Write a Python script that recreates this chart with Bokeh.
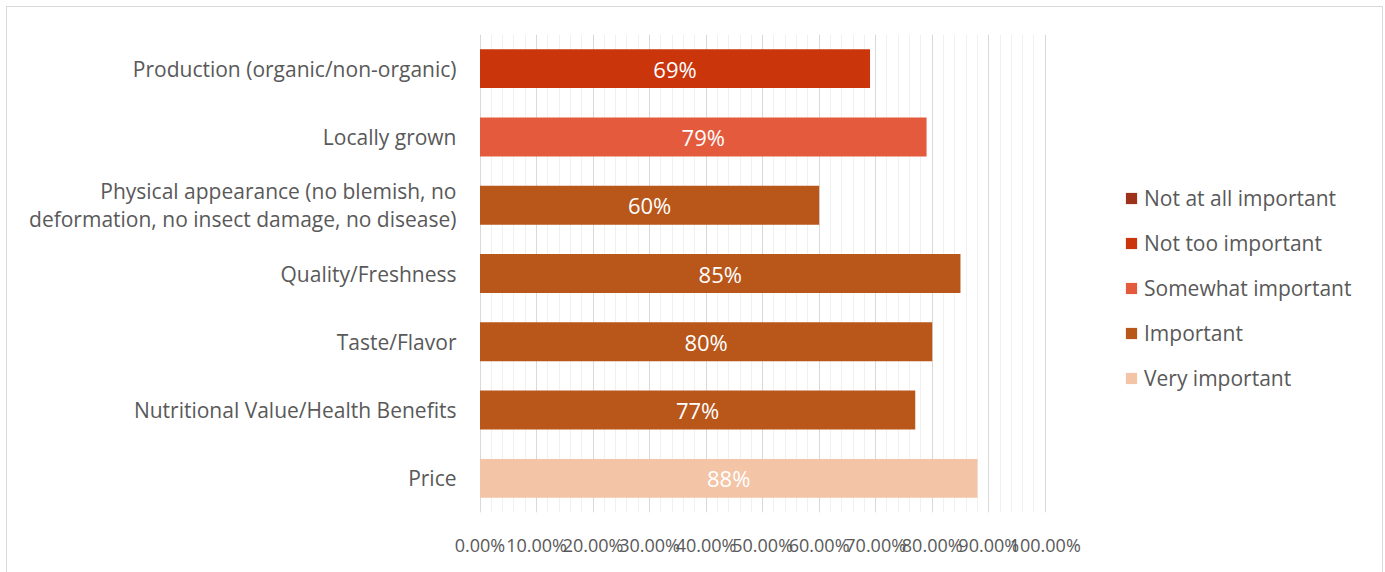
from bokeh.plotting import figure
from bokeh.models import (ColumnDataSource, FixedTicker, Legend, LegendItem,
                          NumeralTickFormatter)
from bokeh.core.properties import value
from bokeh.embed import file_html
from bokeh.resources import INLINE

# ---- data ----
categories = [
    "Production (organic/non-organic)",
    "Locally grown",
    "Physical appearance (no blemish, no\ndeformation, no insect damage, no disease)",
    "Quality/Freshness",
    "Taste/Flavor",
    "Nutritional Value/Health Benefits",
    "Price",
]
values = [69, 79, 60, 85, 80, 77, 88]
levels = ["Not too important", "Somewhat important", "Important", "Important",
          "Important", "Important", "Very important"]
legend_levels = ["Not at all important", "Not too important", "Somewhat important",
                 "Important", "Very important"]
level_colors = ["#9E311A", "#CB350B", "#E45A3C", "#B9561A", "#F3C4A6"]
x_ticks = [0.0, 0.1, 0.2, 0.3, 0.4, 0.5, 0.6, 0.7, 0.8, 0.9, 1.0]

FONT = "Open Sans"
TXT = "#595959"

# frame spans 480..1373 px; 0..1 maps to 480..1044 px, room on the right for legend
PX_PER_UNIT = 564.0
FRAME_W = 893.0
x0 = -0.5 / PX_PER_UNIT
x1 = x0 + FRAME_W / PX_PER_UNIT

p = figure(width=1377, height=566, y_range=list(reversed(categories)),
           x_range=(x0, x1), output_backend="svg", toolbar_location=None,
           min_border_left=472, min_border_right=10, min_border_top=27,
           min_border_bottom=61)
p.styles = {"margin-left": "6px", "margin-top": "6px",
            "border-left": "1px solid #d9d9d9", "border-top": "1px solid #d9d9d9",
            "border-right": "1px solid #d9d9d9"}
p.outline_line_color = None
p.background_fill_color = "white"
p.border_fill_color = "white"

renderers = []
for lvl, col in zip(legend_levels, level_colors):
    idx = [i for i, l in enumerate(levels) if l == lvl]
    cats = [categories[i] for i in idx]
    vals = [values[i] / 100 for i in idx]
    if not idx:  # legend-only level (no category has it): placeholder, nothing drawn
        cats, vals = [categories[0]], [float("nan")]
    src = ColumnDataSource(dict(cat=cats, v=vals))
    r = p.hbar(y="cat", right="v", left=0, height=0.57, source=src,
               fill_color=col, line_color=None)
    renderers.append(r)

lab = ColumnDataSource(dict(cat=categories, x=[v / 200 for v in values],
                            t=[f"{v}%" for v in values]))
p.text(x="x", y="cat", text="t", source=lab, text_color="white",
       text_align="center", text_baseline="middle", text_font=value(FONT),
       text_font_size="22px")

legend = Legend(items=[LegendItem(label=l, renderers=[r])
                       for l, r in zip(legend_levels, renderers)],
                location=(645, 120), orientation="vertical")
legend.glyph_width = 14
legend.glyph_height = 14
legend.label_standoff = 6
legend.label_height = 20
legend.spacing = 17
legend.padding = 0
legend.margin = 0
legend.border_line_color = None
legend.background_fill_alpha = 0
legend.label_text_font = FONT
legend.label_text_font_size = "21px"
legend.label_text_color = TXT
p.add_layout(legend)

# grids
p.ygrid.grid_line_color = None
p.xaxis.ticker = FixedTicker(ticks=x_ticks, minor_ticks=[i / 50 for i in range(51)])
p.xgrid.grid_line_color = "#d9d9d9"
p.xgrid.minor_grid_line_color = "#f0f0f0"

# axes
p.xaxis.formatter = NumeralTickFormatter(format="0.00%")
for ax in (p.xaxis[0], p.yaxis[0]):
    ax.axis_line_color = None
    ax.major_tick_line_color = None
    ax.minor_tick_line_color = None
    ax.major_tick_out = 0
    ax.minor_tick_out = 0
    ax.major_label_text_font = FONT
    ax.major_label_text_color = TXT
p.xaxis.major_label_text_font_size = "18px"
p.yaxis.major_label_text_font_size = "21px"
p.yaxis.major_label_text_line_height = 1.0
p.xaxis.major_label_standoff = 20
p.yaxis.major_label_standoff = 23

open("out.html", "w").write(file_html(p, INLINE))
